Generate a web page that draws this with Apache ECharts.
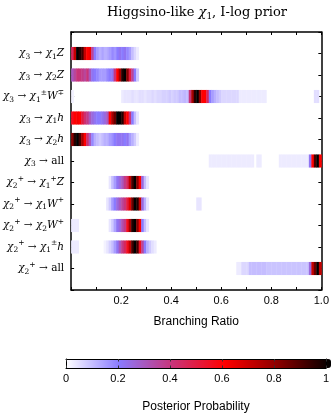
<!DOCTYPE html>
<html><head><meta charset="utf-8">
<script src="https://cdn.jsdelivr.net/npm/echarts@6/dist/echarts.min.js"></script>
<style>html,body{margin:0;padding:0;background:#fff}#c{width:332px;height:414px}</style>
</head><body><div id="c"></div>
<script>
// ---- data ----
const binWidth = 0.01;
const rowLabels = [
  '{c|χ}{s|3}{g| → }{c|χ}{s|1}{i|Z}',
  '{c|χ}{s|3}{g| → }{c|χ}{s|2}{i|Z}',
  '{c|χ}{s|3}{g| → }{c|χ}{s|1}{p|±}{i|W}{p|∓}',
  '{c|χ}{s|3}{g| → }{c|χ}{s|1}{i|h}',
  '{c|χ}{s|3}{g| → }{c|χ}{s|2}{i|h}',
  '{c|χ}{s|3}{g| → all}',
  '{c|χ}{s|2}{p|+}{g| → }{c|χ}{s|1}{p|+}{i|Z}',
  '{c|χ}{s|2}{p|+}{g| → }{c|χ}{s|1}{i|W}{p|+}',
  '{c|χ}{s|2}{p|+}{g| → }{c|χ}{s|2}{i|W}{p|+}',
  '{c|χ}{s|2}{p|+}{g| → }{c|χ}{s|1}{p|±}{i|h}',
  '{c|χ}{s|2}{p|+}{g| → all}'
];
const xTickLabels = ['0.2', '0.4', '0.6', '0.8', '1.0'];
const cbTickLabels = ['0', '0.2', '0.4', '0.6', '0.8', '1'];

// first bin (branching ratio) of each row
const rowStarts = [0, 0, 0, 0, 0, 0.55, 0.15, 0.14, 0, 0, 0.66];

const row1 = [0.45,0.7,1.0,0.95,0.9,0.7,0.6,0.62,0.35,0.2,0.15,0.12,0.14,0.12,0.13,0.15,0.18,0.16,0.2,0.22,0.2,0.22,0.18,0.15,0.1,0.06,0.03];
const row2 = [0.3,0.35,0.4,0.4,0.38,0.35,0.4,0.3,0.22,0.2,0.18,0.15,0.15,0.15,0.18,0.2,0.22,0.4,0.6,0.75,0.95,1.0,0.8,0.5,0.35,0.2,0.08];
const row3 = [0.02,0,0,0,0,0,0,0,0,0, 0,0,0,0,0,0,0,0,0,0,
  0.03,0.04,0.04,0.04,0.05,0.04,0.04,0.05,0.05,0.04,
  0.05,0.05,0.06,0.05,0.06,0.06,0.07,0.07,0.07,0.08,
  0.07,0.08,0.08,0.1,0.1,0.11,0.1,0.4,0.75,0.95,
  1.0,0.8,0.6,0.6,0.45,0.2,0.15,0.12,0.1,0.08,
  0.06,0.06,0.06,0.06,0.06,0.06,0.06,0.03,0.03,0.03,
  0.03,0.03,0.03,0.03,0.03,0.03,0.03,0.03,0,0,
  0,0,0,0,0,0,0,0,0,0,
  0,0,0,0,0,0,0,0.05,0.05];
const row4 = [0.55,0.6,0.62,0.6,0.5,0.42,0.38,0.3,0.25,0.22,0.2,0.2,0.22,0.25,0.3,0.6,0.75,0.85,1.0,1.0,0.95,0.7,0.6,0.4,0.2,0.1,0.04];
const row5 = [0.8,0.95,1.0,0.9,0.75,0.6,0.42,0.3,0.18,0.12,0.1,0.08,0.1,0.12,0.12,0.15,0.17,0.2,0.22,0.22,0.22,0.2,0.22,0.15,0.12,0.08,0.03];
const row6 = [0.03,0.03,0.03,0.03,0.03,0.03,0.03,0.03,0.03,0.03,
  0.03,0.03,0.03,0.03,0.03,0.03,0.03,0.03,0,0.03,
  0.03,0,0,0,0,0,0,0,0.03,0.03,
  0.03,0.03,0.03,0.03,0.03,0.03,0.03,0.03,0.03,0.03,
  0.22,0.6,0.9,1.0,0.6];
const row7 = [0.04,0.1,0.15,0.22,0.25,0.3,0.38,0.45,0.7,0.9,1.0,0.8,0.6,0.25,0.1,0.04];
const row8 = [0.04,0.08,0.15,0.2,0.25,0.3,0.35,0.4,0.5,0.65,0.85,1.0,0.95,0.7,0.25,0.12,0.04,
  0,0,0,0,0,0,0,0,0,0,0,0,0,0,0,0,0,0,0,0.04,0.04];
const row9 = [0.03,0.03,0.03,0,0,0,0,0,0,0, 0,0,0,0,0,
  0.04,0.08,0.14,0.22,0.25,0.32,0.38,0.55,0.75,0.95,1.0,0.8,0.6,0.2,0.1,0.04];
const row10 = [0.03,0.03,0.03,0,0,0,0,0,0,0, 0,0,0,
  0.02,0.04,0.07,0.1,0.15,0.22,0.3,0.38,0.45,0.55,0.7,0.9,1.0,0.9,0.55,0.35,0.2,0.12,0.08,0.05,0.03];
const row11 = [0.03,0.03,0.06,0.06,0.06,0.1,0.1,0.1,0.1,0.1,0.1,0.1,
  0.09,0.09,0.09,0.09,0.09,0.09,0.09,0.09,0.09,0.09,0.09,0.09,0.09,0.09,0.09,0.09,0.09,
  0.25,0.7,0.85,1.0,0.7];

const rows = [row1,row2,row3,row4,row5,row6,row7,row8,row9,row10,row11];

// ---- build ----
const cells = [];
rows.forEach((vals, r) => {
  vals.forEach((v, i) => {
    if (v > 0) cells.push([Math.round((rowStarts[r] + i * binWidth) * 1000) / 1000, r + 1, v]);
  });
});

const serif = "'DejaVu Serif', 'Liberation Serif', serif";
const sans = "'Liberation Sans', Arial, sans-serif";
const black = '#000';
const frameLine = {show: true, onZero: false, lineStyle: {color: black, width: 1.5}};
const thinLine = {show: true, onZero: false, lineStyle: {color: black, width: 1}};

const chart = echarts.init(document.getElementById('c'), null, {renderer: 'canvas'});
chart.setOption({
  animation: false,
  backgroundColor: '#fff',
  graphic: [{
    type: 'text', x: 197, y: 13, z: 20,
    style: {
      text: '{a|Higgsino-like }{c|χ}{s|1}{a|, I-log prior}',
      textAlign: 'center', textVerticalAlign: 'middle',
      rich: {
        a: {fontFamily: serif, fontSize: 13, color: black, lineHeight: 17},
        c: {fontFamily: serif, fontSize: 13, fontStyle: 'italic', color: black, lineHeight: 17},
        s: {fontFamily: serif, fontSize: 9, color: black, lineHeight: 10, verticalAlign: 'bottom'}
      }
    }
  }],
  grid: [
    {left: 68.5, top: 32, width: 255.5, height: 258},
    {left: 66, top: 359, width: 265, height: 9}
  ],
  xAxis: [
    {gridIndex: 0, type: 'value', min: 0, max: 1, interval: 0.1, position: 'bottom',
     axisLine: frameLine,
     axisTick: {show: true, inside: true, length: 3, lineStyle: {color: black, width: 1}},
     splitLine: {show: false},
     axisLabel: {color: black, fontSize: 11, fontFamily: sans, margin: 5,
       formatter: v => {
         const k = Math.round(v * 10);
         if (Math.abs(v * 10 - k) > 1e-6 || k === 0 || k % 2) return '';
         return xTickLabels[k / 2 - 1];
       }},
     name: 'Branching Ratio', nameLocation: 'middle', nameGap: 26,
     nameTextStyle: {color: black, fontSize: 12, fontFamily: sans}},
    {gridIndex: 0, type: 'value', min: 0, max: 1, interval: 0.1, position: 'top',
     axisLine: frameLine,
     axisTick: {show: true, inside: true, length: 3, lineStyle: {color: black, width: 1}},
     splitLine: {show: false}, axisLabel: {show: false}},
    {gridIndex: 1, type: 'value', min: 0, max: 1, interval: 0.2, position: 'bottom', z: 10,
     axisLine: thinLine,
     axisTick: {show: true, inside: true, length: 2.5, lineStyle: {color: '#333', width: 1}},
     splitLine: {show: false},
     axisLabel: {color: black, fontSize: 11, fontFamily: sans, margin: 5,
       formatter: v => cbTickLabels[Math.round(v * 5)] || ''},
     name: 'Posterior Probability', nameLocation: 'middle', nameGap: 33,
     nameTextStyle: {color: black, fontSize: 12, fontFamily: sans}},
    {gridIndex: 1, type: 'value', min: 0, max: 1, interval: 0.2, position: 'top', z: 10,
     axisLine: thinLine,
     axisTick: {show: true, inside: true, length: 2.5, lineStyle: {color: '#333', width: 1}},
     splitLine: {show: false}, axisLabel: {show: false}}
  ],
  yAxis: [
    {gridIndex: 0, type: 'value', min: 0, max: 12, interval: 1, inverse: true, position: 'left',
     axisLine: frameLine,
     axisTick: {show: true, inside: true, length: 3, lineStyle: {color: black, width: 1}},
     splitLine: {show: false},
     axisLabel: {margin: 7, color: black, align: 'right',
       formatter: v => rowLabels[v - 1] || '',
       rich: {
         c: {fontFamily: serif, fontSize: 10.5, fontStyle: 'italic', color: black, lineHeight: 15},
         g: {fontFamily: serif, fontSize: 10.5, color: black, lineHeight: 15},
         i: {fontFamily: serif, fontSize: 10.5, fontStyle: 'italic', color: black, lineHeight: 15},
         s: {fontFamily: serif, fontSize: 7.5, color: black, lineHeight: 8, verticalAlign: 'bottom'},
         p: {fontFamily: serif, fontSize: 7.5, color: black, lineHeight: 8, verticalAlign: 'top'}
       }}},
    {gridIndex: 0, type: 'value', min: 0, max: 12, interval: 1, inverse: true, position: 'right',
     axisLine: frameLine,
     axisTick: {show: true, inside: true, length: 3, lineStyle: {color: black, width: 1}},
     splitLine: {show: false}, axisLabel: {show: false}},
    {gridIndex: 1, type: 'value', min: 0, max: 1, position: 'left', z: 10,
     axisLine: thinLine,
     axisTick: {show: false}, splitLine: {show: false}, axisLabel: {show: false}},
    {gridIndex: 1, type: 'value', min: 0, max: 1, position: 'right', z: 10,
     axisLine: thinLine,
     axisTick: {show: false}, splitLine: {show: false}, axisLabel: {show: false}}
  ],
  visualMap: {
    type: 'continuous', min: 0, max: 1, seriesIndex: 0, dimension: 2,
    orient: 'horizontal', left: 66, top: 359, itemWidth: 9, itemHeight: 265,
    padding: 0, text: null, calculable: false, hoverLink: false, showLabel: false,
    inRange: {color: ['#ffffff', '#8a7bff', '#c8347a', '#ff0000', '#8a0000', '#000000']}
  },
  series: [{
    type: 'custom', xAxisIndex: 0, yAxisIndex: 0, clip: true,
    encode: {x: 0, y: 1},
    data: cells,
    renderItem: (params, api) => {
      const x = api.value(0), r = api.value(1);
      const p0 = api.coord([x, r]);
      const p1 = api.coord([x + binWidth, r]);
      const h = api.size([0, 1])[1] * 0.61;
      return {type: 'rect',
        shape: {x: p0[0], y: p0[1] - h / 2, width: p1[0] - p0[0] + 0.4, height: h},
        style: {fill: api.visual('color')}};
    }
  }]
});
</script>
</body></html>
